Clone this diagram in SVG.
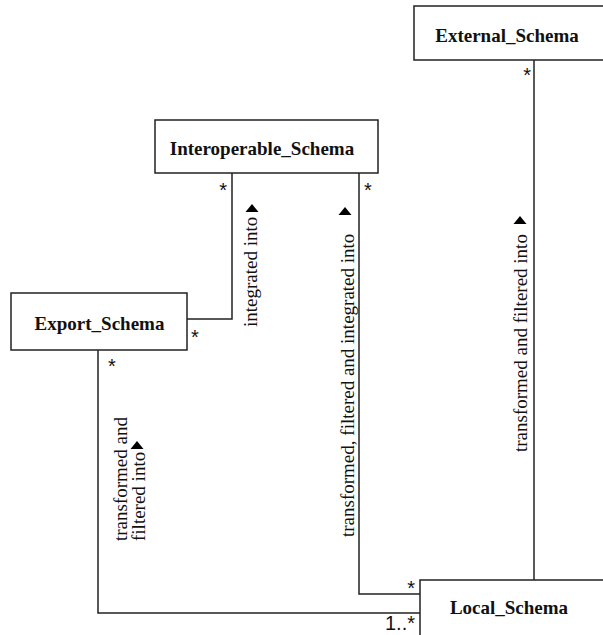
<svg xmlns="http://www.w3.org/2000/svg" width="603" height="635" viewBox="0 0 603 635">
  <style>
    .box { fill: #ffffff; stroke: #222222; stroke-width: 1.5; }
    .name { font-family: "Liberation Serif", "Times New Roman", serif; font-weight: bold; font-size: 19px; fill: #111111; text-anchor: middle; }
    .conn { fill: none; stroke: #222222; stroke-width: 1.5; }
    .lbl { font-family: "Liberation Serif", "Times New Roman", serif; font-size: 19px; fill: #111111; }
    .mult { font-family: "Liberation Sans", Arial, sans-serif; font-size: 20px; fill: #111111; }
    .tri { fill: #000000; }
  </style>
  <rect width="603" height="635" fill="#ffffff"/>
  <g id="connectors">
    <polyline class="conn" points="187,319 232,319 232,173"/>
    <polyline class="conn" points="359,173 359,594 420,594"/>
    <polyline class="conn" points="534,60 534,580"/>
    <polyline class="conn" points="98,350 98,613 420,613"/>
    <text class="mult" x="531" y="82" text-anchor="end">*</text>
    <text class="mult" x="227" y="197" text-anchor="end">*</text>
    <text class="mult" x="364" y="197">*</text>
    <text class="mult" x="191" y="344">*</text>
    <text class="mult" x="108" y="373">*</text>
    <text class="mult" x="415" y="595" text-anchor="end">*</text>
    <text class="mult" x="415" y="630" text-anchor="end">1..*</text>
    <text class="lbl" transform="translate(257,327) rotate(-90)">integrated into</text>
    <polygon class="tri" points="245.5,212 258.5,212 252,204"/>
    <text class="lbl" transform="translate(354,537) rotate(-90)">transformed, filtered and integrated into</text>
    <polygon class="tri" points="338.5,215 351.5,215 345,207"/>
    <text class="lbl" transform="translate(527,452) rotate(-90)">transformed and filtered into</text>
    <polygon class="tri" points="513.5,224 526.5,224 520,216"/>
    <text class="lbl" transform="translate(127,541) rotate(-90)">transformed and</text>
    <text class="lbl" transform="translate(145,541) rotate(-90)">filtered into</text>
    <polygon class="tri" points="130.5,449 143.5,449 137,441"/>
  </g>
  <g id="external_schema">
    <rect class="box" x="414" y="6" width="200" height="54"/>
    <text class="name" x="507" y="42">External_Schema</text>
  </g>
  <g id="interoperable_schema">
    <rect class="box" x="155" y="120" width="223" height="53"/>
    <text class="name" x="262" y="155">Interoperable_Schema</text>
  </g>
  <g id="export_schema">
    <rect class="box" x="11" y="293" width="176" height="57"/>
    <text class="name" x="99.5" y="330">Export_Schema</text>
  </g>
  <g id="local_schema">
    <rect class="box" x="420" y="580" width="200" height="60"/>
    <text class="name" x="509" y="614">Local_Schema</text>
  </g>
</svg>
